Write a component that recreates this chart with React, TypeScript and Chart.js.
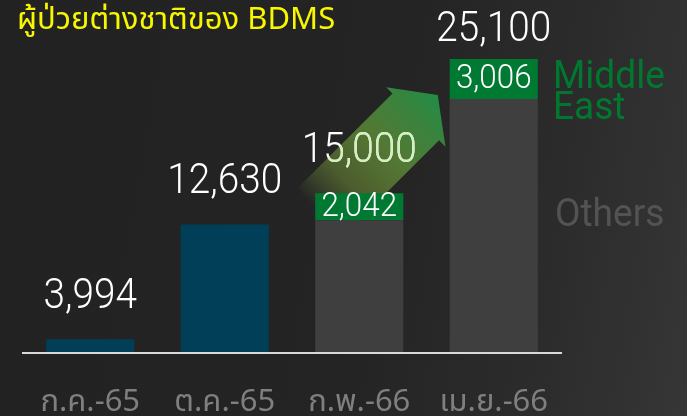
import React, { useEffect, useRef } from "react";
import { Chart, registerables } from "chart.js";

Chart.register(...registerables);

const titleText = "ผู้ป่วยต่างชาติของ BDMS";
const categories = ["ก.ค.-65", "ต.ค.-65", "ก.พ.-66", "เม.ย.-66"];
const totals = [3994, 12630, 15000, 25100];
const middleEast = [null, null, 2042, 3006];
const others = [3994, 12630, 12958, 22094];
const othersColors = ["#013f58", "#013f58", "#3f3f3f", "#3f3f3f"];
const axisMin = 3000;
const axisMax = 25100;
const seriesNames = ["Middle East", "Others"];

const THAI_FONT = "'Noto Sans Thai', 'Noto Sans', Roboto, sans-serif";
const NUM_FONT = "Roboto, 'Noto Sans', sans-serif";

const fmt = (v: number) => v.toLocaleString("en-US");

function arrowPath(ctx: CanvasRenderingContext2D, x0: number, y0: number, x1: number, y1: number) {
  const dx = x1 - x0;
  const dy = y1 - y0;
  const len = Math.sqrt(dx * dx + dy * dy);
  const ux = dx / len, uy = dy / len;
  const nx = -uy, ny = ux;
  const shaftHalf = 33;
  const headHalf = 42;
  const headLen = 31;
  const bx = x1 - ux * headLen, by = y1 - uy * headLen;
  ctx.beginPath();
  ctx.moveTo(x0 + nx * shaftHalf, y0 + ny * shaftHalf);
  ctx.lineTo(bx + nx * shaftHalf, by + ny * shaftHalf);
  ctx.lineTo(bx + nx * headHalf, by + ny * headHalf);
  ctx.lineTo(x1, y1);
  ctx.lineTo(bx - nx * headHalf, by - ny * headHalf);
  ctx.lineTo(bx - nx * shaftHalf, by - ny * shaftHalf);
  ctx.lineTo(x0 - nx * shaftHalf, y0 - ny * shaftHalf);
  ctx.closePath();
}

function drawCondensed(ctx: CanvasRenderingContext2D, text: string, x: number, y: number, sx: number) {
  ctx.save();
  ctx.translate(x, y);
  ctx.scale(sx, 1);
  ctx.fillText(text, 0, 0);
  ctx.restore();
}

const decorPlugin = {
  id: "decor",
  beforeDatasetsDraw(chart: any) {
    const ctx = chart.ctx as CanvasRenderingContext2D;
    const meta0 = chart.getDatasetMeta(0);
    const yScale = chart.scales.y;
    const tops = totals.map((t) => yScale.getPixelForValue(t));
    const labelY = tops.map((t) => Math.max(t - 42, 30));

    const b3 = meta0.data[2];
    const b4 = meta0.data[3];
    const tipX = b4.x - 56;
    const tipY = tops[3] + 36;
    const tailX = b3.x - 40;
    const tailY = tops[2] + 20;

    ctx.save();
    const g = ctx.createLinearGradient(tailX, tailY, tipX, tipY);
    g.addColorStop(0, "rgba(120,150,60,0)");
    g.addColorStop(0.25, "rgba(110,140,55,0.55)");
    g.addColorStop(0.55, "rgba(92,135,55,0.85)");
    g.addColorStop(1, "rgba(35,140,70,1)");
    ctx.fillStyle = g;
    arrowPath(ctx, tailX, tailY, tipX, tipY);
    ctx.fill();
    ctx.restore();

    ctx.save();
    ctx.font = `300 43px ${NUM_FONT}`;
    ctx.textAlign = "center";
    ctx.textBaseline = "middle";
    ctx.fillStyle = "#ffffff";
    totals.forEach((t, i) => {
      drawCondensed(ctx, fmt(t), meta0.data[i].x, labelY[i], 0.9);
    });
    arrowPath(ctx, tailX, tailY, tipX, tipY);
    ctx.clip();
    ctx.fillStyle = "#d4efc0";
    totals.forEach((t, i) => {
      drawCondensed(ctx, fmt(t), meta0.data[i].x, labelY[i], 0.9);
    });
    ctx.restore();
  },
  afterDatasetsDraw(chart: any) {
    const ctx = chart.ctx as CanvasRenderingContext2D;
    const meta1 = chart.getDatasetMeta(1);
    const area = chart.chartArea;
    const yScale = chart.scales.y;
    ctx.save();
    ctx.font = `300 33px ${NUM_FONT}`;
    ctx.textAlign = "center";
    ctx.textBaseline = "middle";
    ctx.fillStyle = "#ffffff";
    middleEast.forEach((v, i) => {
      if (v == null) return;
      const el = meta1.data[i];
      drawCondensed(ctx, fmt(v), el.x, (el.y + el.base) / 2 + 1, 0.95);
    });
    ctx.restore();

    const last = meta1.data[meta1.data.length - 1];
    ctx.save();
    ctx.textAlign = "left";
    ctx.textBaseline = "middle";
    ctx.font = `400 39px ${NUM_FONT}`;
    ctx.fillStyle = "#00782f";
    const parts = seriesNames[0].split(" ");
    drawCondensed(ctx, parts[0], area.right - 8, last.y + 19, 0.95);
    drawCondensed(ctx, parts[1], area.right - 8, last.y + 50, 0.95);
    ctx.fillStyle = "#535353";
    const othersMid = (last.base + yScale.bottom) / 2 - 9;
    drawCondensed(ctx, seriesNames[1], area.right - 6, othersMid, 0.95);
    ctx.restore();

    ctx.save();
    ctx.font = `400 31px ${THAI_FONT}`;
    ctx.fillStyle = "#f7f700";
    ctx.textAlign = "left";
    ctx.textBaseline = "middle";
    ctx.fillText(titleText, 17, 23);
    ctx.restore();
  },
};

export default function App() {
  const ref = useRef<HTMLCanvasElement | null>(null);
  useEffect(() => {
    document.body.style.margin = "0";
    const chart = new Chart(ref.current!, {
      type: "bar",
      data: {
        labels: categories,
        datasets: [
          {
            label: seriesNames[1],
            data: others,
            backgroundColor: othersColors,
            barPercentage: 0.655,
            categoryPercentage: 1,
            borderWidth: 0,
          },
          {
            label: seriesNames[0],
            data: middleEast,
            backgroundColor: "#007a33",
            barPercentage: 0.655,
            categoryPercentage: 1,
            borderWidth: 0,
          },
        ],
      },
      options: {
        animation: false,
        responsive: false,
        maintainAspectRatio: false,
        layout: { padding: { left: 23, right: 126, top: 59, bottom: 0 } },
        plugins: { legend: { display: false }, tooltip: { enabled: false }, title: { display: false } },
        scales: {
          x: {
            stacked: true,
            grid: { display: false, drawTicks: false },
            border: { display: true, color: "#d9d9d9", width: 2, z: 1 },
            ticks: {
              color: "#7f7f7f",
              font: { size: 31, family: THAI_FONT, weight: "400" as any },
              padding: 34,
              maxRotation: 0,
              autoSkip: false,
            },
            afterFit: (scale: any) => {
              scale.height = 63.5;
            },
          },
          y: {
            display: false,
            stacked: true,
            min: axisMin,
            max: axisMax,
            beginAtZero: false,
          },
        },
      },
      plugins: [decorPlugin],
    });
    return () => chart.destroy();
  }, []);
  return (
    <div
      style={{
        position: "absolute",
        left: 0,
        top: 0,
        width: 687,
        height: 416,
        background: "linear-gradient(100deg, #222222 0%, #242424 55%, #2c2c2c 80%, #363636 100%)",
      }}
    >
      <canvas ref={ref} width={687} height={416} style={{ display: "block" }} />
    </div>
  );
}
